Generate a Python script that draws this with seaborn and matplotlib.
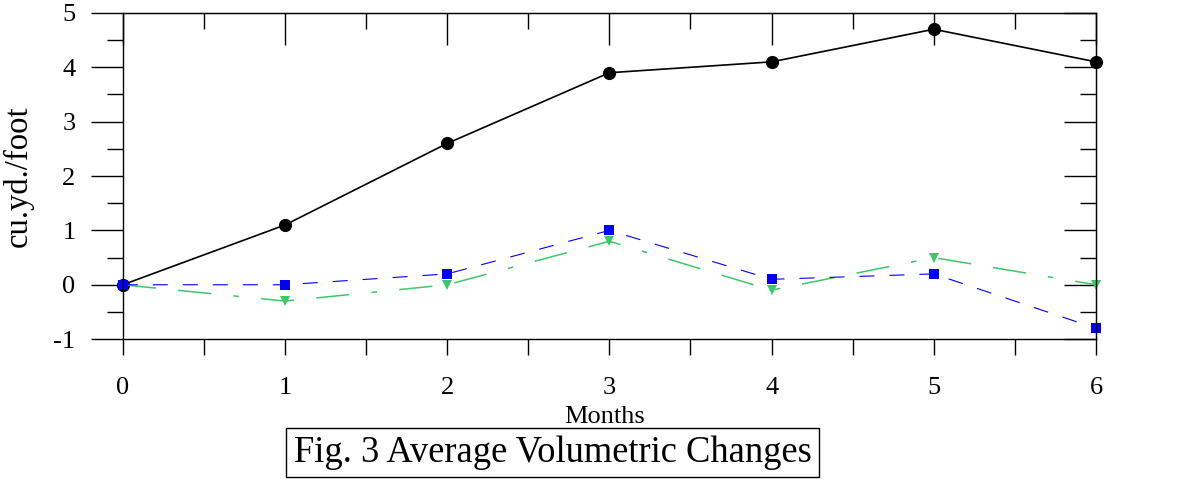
import seaborn as sns
import pandas as pd
import matplotlib.pyplot as plt
from matplotlib.ticker import MultipleLocator

months = [0, 1, 2, 3, 4, 5, 6]
series_a = [0, 1.1, 2.6, 3.9, 4.1, 4.7, 4.1]      # black circles
series_b = [0, 0, 0.2, 1.0, 0.1, 0.2, -0.8]       # blue squares
series_c = [0, -0.3, 0.0, 0.8, -0.1, 0.5, 0.0]    # green triangles

df = pd.DataFrame({
    "Months": months * 3,
    "value": series_a + series_c + series_b,
    "series": ["A"] * 7 + ["C"] * 7 + ["B"] * 7,
})

sns.set_style("ticks")
plt.rcParams["font.family"] = ["Liberation Serif", "DejaVu Serif"]
plt.rcParams["lines.scale_dashes"] = False
plt.rcParams["axes.unicode_minus"] = False
plt.rcParams["text.color"] = "black"
plt.rcParams["axes.labelcolor"] = "black"
plt.rcParams["xtick.color"] = "black"
plt.rcParams["ytick.color"] = "black"

fig = plt.figure(figsize=(11.81, 4.79), dpi=100)
ax = fig.add_axes([0.104, 0.292, 0.824, 0.681])

palette = {"A": "black", "B": "#0000ff", "C": "#3cc86a"}
markers = {"A": "o", "B": "s", "C": "v"}
dashes = {"A": "", "B": (10.8, 10.8), "C": (24, 16, 24, 16, 4, 16)}

sns.lineplot(data=df, x="Months", y="value", hue="series", style="series",
             palette=palette, markers=markers, dashes=dashes,
             markersize=7, markeredgewidth=0, linewidth=1.1,
             legend=False, ax=ax, clip_on=False)
# bigger circles for the black line
for line in ax.lines:
    if line.get_marker() == "o":
        line.set_markersize(9.5)
        line.set_linewidth(1.2)
    elif line.get_marker() == "s":
        line.set_linewidth(0.8)
        line.set_markersize(6.5)
    else:
        line.set_markersize(6.5)

ax.set_xlim(0, 6)
ax.set_ylim(-1, 5)
ax.xaxis.set_major_locator(MultipleLocator(1))
ax.xaxis.set_minor_locator(MultipleLocator(0.5))
ax.yaxis.set_major_locator(MultipleLocator(1))
ax.yaxis.set_minor_locator(MultipleLocator(0.5))

for s in ax.spines.values():
    s.set_visible(True)
    s.set_color("black")
    s.set_linewidth(1.0)

ax.tick_params(axis="x", which="both", direction="out", length=11.5, width=1,
               pad=16, labelsize=19, top=False)
ax.tick_params(axis="y", which="major", direction="out", length=23, width=1,
               pad=11, labelsize=19, right=False)
ax.tick_params(axis="y", which="minor", direction="out", length=11.5, width=1,
               right=False)

# inward ticks on the right and top
right = ax.secondary_yaxis("right")
right.yaxis.set_major_locator(MultipleLocator(1))
right.yaxis.set_minor_locator(MultipleLocator(0.5))
right.tick_params(which="major", direction="in", length=23, width=1, labelright=False)
right.tick_params(which="minor", direction="in", length=11.5, width=1)
top = ax.secondary_xaxis("top")
top.xaxis.set_major_locator(MultipleLocator(1))
top.xaxis.set_minor_locator(MultipleLocator(0.5))
top.tick_params(which="major", direction="in", length=23, width=1, labeltop=False)
top.tick_params(which="minor", direction="in", length=11.5, width=1)

ax.set_ylabel("cu.yd./foot", fontsize=23.5)
ax.yaxis.set_label_coords(-0.0914, 0.5)
ax.set_xlabel("Months", fontsize=19)
ax.xaxis.set_label_coords(0.495, -0.205)

fig.text(0.468, 0.055, "Fig. 3 Average Volumetric Changes", fontsize=26.3,
         ha="center", va="center",
         bbox=dict(boxstyle="square,pad=0.2", fc="white", ec="black", lw=1))

fig.savefig("out.png", dpi=100)
